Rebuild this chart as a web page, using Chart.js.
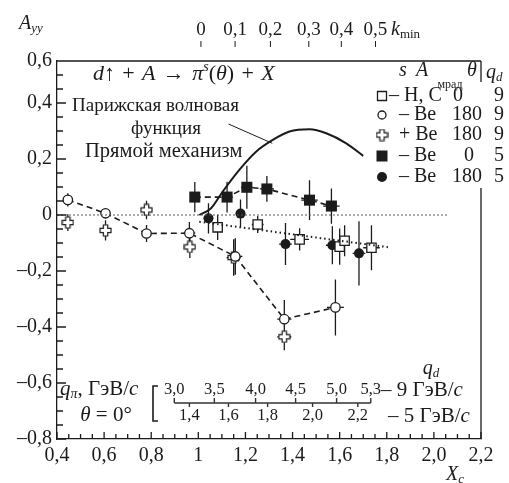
<!DOCTYPE html>
<html>
<head>
<meta charset="utf-8">
<script src="https://cdn.jsdelivr.net/npm/chart.js@4.4.1/dist/chart.umd.min.js"></script>
<style>
  html, body { margin: 0; padding: 0; background: #fff; }
  #wrap { width: 509px; height: 483px; }
</style>
</head>
<body>
<div id="wrap"><canvas id="c" width="509" height="483"></canvas></div>
<script>
// ── data ─────────────────────────────────────────────────
const xTickValues = [0.4, 0.6, 0.8, 1.0, 1.2, 1.4, 1.6, 1.8, 2.0, 2.2];
const xTickLabels = ['0,4', '0,6', '0,8', '1', '1,2', '1,4', '1,6', '1,8', '2,0', '2,2'];
// the printed frame stops a little short of 0.6, the "0,6" label sits on the frame
const yTop = 0.55;
const yTickValues = [-0.8, -0.6, -0.4, -0.2, 0, 0.2, 0.4, yTop];
const yTickLabels = ['–0,8', '–0,6', '–0,4', '–0,2', '0', '0,2', '0,4', '0,6'];

// top k_min scale (positions given in X_c)
const kTickXc = [1.011, 1.156, 1.306, 1.469, 1.607, 1.752];
const kTickLabels = ['0', '0,1', '0,2', '0,3', '0,4', '0,5'];

// q_pi scale inside the plot (positions given in X_c)
const q9Xc = [0.898, 1.068, 1.243, 1.413, 1.587, 1.732];
const q9Labels = ['3,0', '3,5', '4,0', '4,5', '5,0', '5,3'];
const q5Xc = [0.962, 1.128, 1.294, 1.485, 1.677];
const q5Labels = ['1,4', '1,6', '1,8', '2,0', '2,2'];

// open circles: – Be, 180 mrad, q_d = 9
const beM9X  = [0.446, 0.606, 0.780, 0.962, 1.157, 1.365, 1.582];
const beM9Y  = [0.054, 0.006, -0.066, -0.065, -0.148, -0.372, -0.330];
const beM9Ey = [0.024, 0.018, 0.030, 0.040, 0.065, 0.068, 0.100];
const beM9Ex = [0.020, 0.020, 0.020, 0.025, 0.030, 0.030, 0.036];

// hollow plus: + Be, 180 mrad, q_d = 9
const beP9X  = [0.446, 0.606, 0.780, 0.964, 1.150, 1.365];
const beP9Y  = [-0.027, -0.055, 0.018, -0.114, -0.152, -0.435];
const beP9Ey = [0.030, 0.036, 0.033, 0.040, 0.065, 0.048];
const beP9Ex = [0.020, 0.020, 0.020, 0.025, 0.030, 0.030];

// open squares: – H, C, 0 mrad, q_d = 9
const hc9X  = [1.082, 1.252, 1.430, 1.600, 1.621, 1.735];
const hc9Y  = [-0.044, -0.034, -0.087, -0.113, -0.092, -0.117];
const hc9Ey = [0.045, 0.030, 0.040, 0.065, 0.055, 0.080];
const hc9Ex = [0.020, 0.025, 0.040, 0.020, 0.020, 0.035];

// filled squares: – Be, 0 mrad, q_d = 5
const be0q5X  = [0.985, 1.122, 1.206, 1.291, 1.472, 1.565];
const be0q5Y  = [0.064, 0.064, 0.099, 0.093, 0.053, 0.032];
const be0q5Ey = [0.054, 0.055, 0.077, 0.046, 0.071, 0.063];
const be0q5Ex = [0.020, 0.025, 0.025, 0.030, 0.035, 0.035];

// filled circles: – Be, 180 mrad, q_d = 5
const be180q5X  = [1.043, 1.179, 1.370, 1.569, 1.682];
const be180q5Y  = [-0.012, 0.005, -0.104, -0.108, -0.137];
const be180q5Ey = [0.054, 0.050, 0.075, 0.068, 0.115];
const be180q5Ex = [0.020, 0.020, 0.027, 0.027, 0.027];

// Paris wave function, direct mechanism (solid curve)
const curveX = [1.004, 1.054, 1.103, 1.174, 1.245, 1.316, 1.387, 1.472, 1.543, 1.628, 1.700];
const curveY = [0.000, 0.024, 0.083, 0.161, 0.226, 0.268, 0.298, 0.306, 0.292, 0.256, 0.211];

// straight dotted fit through the open squares
const fitX = [1.004, 1.805];
const fitY = [-0.024, -0.115];

// dotted zero line
const zeroX = [0.4, 2.06];
const zeroY = [0, 0];

// pointer from the curve caption to the curve
const pointerX = [1.128, 1.314];
const pointerY = [0.325, 0.256];

// ── drawing helpers ──────────────────────────────────────
const INK = '#1b1b1b';
const SERIF = '"Liberation Serif", "DejaVu Serif", serif';
const F = s => `${s}px ${SERIF}`;
const FI = s => `italic ${s}px ${SERIF}`;

const pts = (xs, ys) => xs.map((v, i) => ({ x: v, y: ys[i] }));

function makePlus(size) {
  const c = document.createElement('canvas');
  c.width = c.height = size;
  const g = c.getContext('2d');
  const m = size / 2, a = 2.2, L = size / 2 - 1;
  g.beginPath();
  g.moveTo(m - a, m - L); g.lineTo(m + a, m - L); g.lineTo(m + a, m - a);
  g.lineTo(m + L, m - a); g.lineTo(m + L, m + a); g.lineTo(m + a, m + a);
  g.lineTo(m + a, m + L); g.lineTo(m - a, m + L); g.lineTo(m - a, m + a);
  g.lineTo(m - L, m + a); g.lineTo(m - L, m - a); g.lineTo(m - a, m - a);
  g.closePath();
  g.fillStyle = '#fff'; g.fill();
  g.strokeStyle = INK; g.lineWidth = 1.2; g.stroke();
  return c;
}
const plusImg = makePlus(13);

function runs(ctx, x, y, parts, align) {
  let w = 0;
  parts.forEach(p => { ctx.font = p[1]; w += ctx.measureText(p[0]).width; });
  let cx = align === 'center' ? x - w / 2 : align === 'right' ? x - w : x;
  parts.forEach(p => {
    ctx.font = p[1];
    ctx.fillText(p[0], cx, y + (p[2] || 0));
    cx += ctx.measureText(p[0]).width;
  });
}

const errorSets = [
  { x: beM9X, y: beM9Y, ex: beM9Ex, ey: beM9Ey },
  { x: beP9X, y: beP9Y, ex: beP9Ex, ey: beP9Ey },
  { x: hc9X, y: hc9Y, ex: hc9Ex, ey: hc9Ey },
  { x: be0q5X, y: be0q5Y, ex: be0q5Ex, ey: be0q5Ey },
  { x: be180q5X, y: be180q5Y, ex: be180q5Ex, ey: be180q5Ey },
];

const overlay = {
  id: 'overlay',
  beforeDatasetsDraw(chart) {
    const { ctx, scales: { x, y } } = chart;
    ctx.save();
    ctx.strokeStyle = INK;
    ctx.lineWidth = 1.3;
    ctx.beginPath();
    errorSets.forEach(s => {
      s.x.forEach((xv, i) => {
        const px = x.getPixelForValue(xv), py = y.getPixelForValue(s.y[i]);
        ctx.moveTo(px, y.getPixelForValue(s.y[i] + s.ey[i]));
        ctx.lineTo(px, y.getPixelForValue(s.y[i] - s.ey[i]));
        ctx.moveTo(x.getPixelForValue(xv - s.ex[i]), py);
        ctx.lineTo(x.getPixelForValue(xv + s.ex[i]), py);
      });
    });
    ctx.stroke();
    ctx.restore();
  },
  afterDraw(chart) {
    const { ctx, chartArea: a, scales: { x, y } } = chart;
    ctx.save();
    ctx.strokeStyle = INK;
    ctx.fillStyle = INK;
    ctx.lineWidth = 1.3;

    // top and right frame (right side broken by the legend)
    ctx.beginPath();
    ctx.moveTo(a.left, a.top); ctx.lineTo(a.right, a.top);
    ctx.moveTo(a.right, a.top); ctx.lineTo(a.right, 82);
    ctx.moveTo(a.right, 188); ctx.lineTo(a.right, a.bottom);
    ctx.stroke();

    // inward ticks
    ctx.beginPath();
    for (let k = 0; k <= 36; k++) {
      const v = 0.4 + k * 0.05, px = x.getPixelForValue(v);
      const len = k % 4 === 0 ? 7 : 5;
      ctx.moveTo(px, a.bottom); ctx.lineTo(px, a.bottom - len);
    }
    for (let k = 0; k <= 26; k++) {
      const v = -0.8 + k * 0.05, py = y.getPixelForValue(v);
      const len = k % 4 === 0 ? 9 : 6;
      ctx.moveTo(a.left, py); ctx.lineTo(a.left + len, py);
    }
    ctx.stroke();

    ctx.textBaseline = 'middle';
    ctx.textAlign = 'left';

    // axis titles
    runs(ctx, 19, 24, [['A', FI(20)], ['yy', FI(13), 5]], 'left');
    runs(ctx, 446, 475, [['X', FI(20)], ['c', FI(13), 5]], 'left');

    // k_min scale above the frame
    ctx.beginPath();
    kTickXc.forEach(v => {
      const px = x.getPixelForValue(v);
      ctx.moveTo(px, 41); ctx.lineTo(px, 47);
    });
    ctx.lineWidth = 1;
    ctx.stroke();
    kTickXc.forEach((v, i) => runs(ctx, x.getPixelForValue(v), 30, [[kTickLabels[i], F(19)]], 'center'));
    runs(ctx, 391, 30, [['k', FI(20)], ['min', F(13), 5]], 'left');

    // reaction and curve captions
    const sp = ' \u200A';
    runs(ctx, 93, 74, [
      ['d', FI(22)], ['↑' + sp + '+' + sp, F(22)], ['A', FI(22)], [sp + '→' + sp, F(22)], ['π', FI(22)],
      ['s', FI(14), -7], ['(', F(22)], ['θ', FI(22)], [')' + sp + '+' + sp, F(22)], ['X', FI(22)]
    ], 'left');
    runs(ctx, 72, 106, [['Парижская волновая', F(19)]], 'left');
    runs(ctx, 166, 129, [['функция', F(19)]], 'center');
    runs(ctx, 85, 152, [['Прямой механизм', F(20.5)]], 'left');

    // pointer to the curve
    ctx.beginPath();
    ctx.lineWidth = 1;
    ctx.moveTo(x.getPixelForValue(pointerX[0]), y.getPixelForValue(pointerY[0]));
    ctx.lineTo(x.getPixelForValue(pointerX[1]), y.getPixelForValue(pointerY[1]));
    ctx.stroke();

    // legend
    runs(ctx, 399, 71, [['s', FI(20)]], 'left');
    runs(ctx, 416, 71, [['A', FI(20)]], 'left');
    runs(ctx, 472, 71, [['θ', FI(20)]], 'center');
    runs(ctx, 486, 73, [['q', FI(20)], ['d', FI(13), 5]], 'left');
    runs(ctx, 450, 85, [['мрад', F(12)]], 'center');

    const rows = [
      { y: 96, mark: 'osq', text: '– H, C', tx: 389, thx: 458, th: '0', q: '9' },
      { y: 115, mark: 'oc', text: '– Be', tx: 399, th: '180', q: '9' },
      { y: 135, mark: 'plus', text: '+ Be', tx: 399, th: '180', q: '9' },
      { y: 156, mark: 'fsq', text: '– Be', tx: 399, thx: 469, th: '0', q: '5' },
      { y: 177, mark: 'fc', text: '– Be', tx: 399, th: '180', q: '5' },
    ];
    const mx = 382;
    rows.forEach(r => {
      ctx.lineWidth = 1.3;
      ctx.beginPath();
      if (r.mark === 'osq') { ctx.rect(mx - 4.5, r.y - 4.5, 9, 9); ctx.fillStyle = '#fff'; ctx.fill(); ctx.stroke(); }
      if (r.mark === 'oc') { ctx.arc(mx, r.y, 4, 0, Math.PI * 2); ctx.fillStyle = '#fff'; ctx.fill(); ctx.stroke(); }
      if (r.mark === 'plus') { ctx.drawImage(plusImg, mx - 6.5, r.y - 6.5); }
      if (r.mark === 'fsq') { ctx.fillStyle = INK; ctx.fillRect(mx - 5.5, r.y - 5.5, 11, 11); }
      if (r.mark === 'fc') { ctx.arc(mx, r.y, 5, 0, Math.PI * 2); ctx.fillStyle = INK; ctx.fill(); }
      ctx.fillStyle = INK;
      runs(ctx, r.tx, r.y, [[r.text, F(20)]], 'left');
      if (r.th === '0') runs(ctx, r.thx, r.y, [['0', F(20)]], 'center');
      else runs(ctx, 482, r.y, [['180', F(20)]], 'right');
      runs(ctx, 499, r.y, [[r.q, F(20)]], 'center');
    });

    // q_pi scales at the bottom
    runs(ctx, 431, 369, [['q', FI(20)], ['d', FI(13), 5]], 'center');
    runs(ctx, 60, 389, [['q', FI(21)], ['π', FI(14), 5], [', ГэВ/', F(21)], ['c', FI(21)]], 'left');
    runs(ctx, 106, 415, [['θ', FI(21)], [' = 0°', F(21)]], 'center');

    ctx.lineWidth = 1.6;
    ctx.beginPath();
    ctx.moveTo(158, 386); ctx.lineTo(153, 386); ctx.lineTo(153, 421); ctx.lineTo(158, 421);
    ctx.stroke();

    const lineY = 403;
    ctx.lineWidth = 1.4;
    ctx.strokeStyle = '#333';
    ctx.beginPath();
    ctx.moveTo(x.getPixelForValue(q9Xc[0]), lineY);
    ctx.lineTo(x.getPixelForValue(q9Xc[q9Xc.length - 1]), lineY);
    q9Xc.forEach(v => { const px = x.getPixelForValue(v); ctx.moveTo(px, lineY); ctx.lineTo(px, lineY - 5); });
    q5Xc.forEach(v => { const px = x.getPixelForValue(v); ctx.moveTo(px, lineY); ctx.lineTo(px, lineY + 4); });
    ctx.stroke();
    q9Xc.forEach((v, i) => runs(ctx, x.getPixelForValue(v), 390, [[q9Labels[i], F(16.5)]], 'center'));
    q5Xc.forEach((v, i) => runs(ctx, x.getPixelForValue(v), 416, [[q5Labels[i], F(16.5)]], 'center'));
    runs(ctx, 381, 390, [['– 9 ГэВ/', F(21)], ['c', FI(21)]], 'left');
    runs(ctx, 388, 416, [['– 5 ГэВ/', F(21)], ['c', FI(21)]], 'left');

    ctx.restore();
  }
};

const dash = [6, 4];

new Chart(document.getElementById('c'), {
  type: 'scatter',
  data: {
    datasets: [
      { data: pts(zeroX, zeroY), showLine: true, borderColor: '#555', borderWidth: 1, borderDash: [2, 2], pointRadius: 0 },
      { data: pts(fitX, fitY), showLine: true, borderColor: INK, borderWidth: 2, borderDash: [1.5, 3], pointRadius: 0 },
      { data: pts(curveX, curveY), showLine: true, borderColor: INK, borderWidth: 2, pointRadius: 0, cubicInterpolationMode: 'monotone' },
      { data: pts(beM9X, beM9Y), showLine: true, borderColor: INK, borderWidth: 1.6, borderDash: dash,
        pointStyle: 'circle', pointRadius: 4.7, pointBackgroundColor: '#fff', pointBorderColor: INK, pointBorderWidth: 1.3 },
      { data: pts(beP9X, beP9Y), showLine: false, pointStyle: plusImg, pointRadius: 6 },
      { data: pts(be0q5X, be0q5Y), showLine: true, borderColor: INK, borderWidth: 1.6, borderDash: dash,
        pointStyle: 'rect', pointRadius: 7.8, pointBackgroundColor: INK, pointBorderColor: INK, pointBorderWidth: 0 },
      { data: pts(hc9X, hc9Y), showLine: false,
        pointStyle: 'rect', pointRadius: 6.6, pointBackgroundColor: '#fff', pointBorderColor: INK, pointBorderWidth: 1.3 },
      { data: pts(be180q5X, be180q5Y), showLine: false,
        pointStyle: 'circle', pointRadius: 5, pointBackgroundColor: INK, pointBorderColor: INK, pointBorderWidth: 0 },
    ]
  },
  options: {
    responsive: false,
    animation: false,
    events: [],
    layout: { padding: { top: 61, right: 28, left: 0, bottom: 0 } },
    plugins: { legend: { display: false }, tooltip: { enabled: false } },
    scales: {
      x: {
        type: 'linear', min: 0.4, max: 2.2,
        afterBuildTicks: s => { s.ticks = xTickValues.map(v => ({ value: v })); },
        afterFit: s => { s.height = 44; },
        ticks: { callback: (v, i) => xTickLabels[i], font: { family: SERIF, size: 20 }, color: INK, padding: 5, maxRotation: 0, autoSkip: false },
        grid: { display: false, drawTicks: false },
        border: { display: true, color: INK, width: 1.3 }
      },
      y: {
        type: 'linear', min: -0.8, max: yTop,
        afterBuildTicks: s => { s.ticks = yTickValues.map(v => ({ value: v })); },
        afterFit: s => { s.width = 57; },
        ticks: { callback: (v, i) => yTickLabels[i], font: { family: SERIF, size: 20 }, color: INK, padding: 5, autoSkip: false },
        grid: { display: false, drawTicks: false },
        border: { display: true, color: INK, width: 1.3 }
      }
    }
  },
  plugins: [overlay]
});
</script>
</body>
</html>
